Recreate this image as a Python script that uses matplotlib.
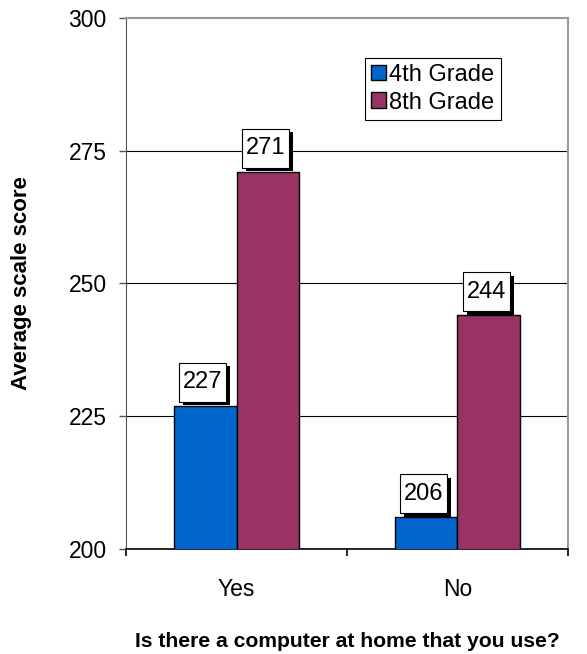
import matplotlib as mpl
mpl.use('Agg')
import matplotlib.pyplot as plt
import matplotlib.patheffects as pe
from matplotlib.path import Path
import numpy as np

categories = ['Yes', 'No']
grade4 = [227, 206]
grade8 = [271, 244]
series_names = ['4th Grade', '8th Grade']
yticks = [200, 225, 250, 275, 300]

plt.rcParams['font.family'] = ['Liberation Sans', 'DejaVu Sans']


def label_box(x0, y0, width, height, mutation_size):
    # rectangle with more padding above/below than at the sides
    px = 0.16 * mutation_size
    py = 0.36 * mutation_size
    x0, y0 = x0 - px, y0 - py
    x1, y1 = x0 + width + 2 * px, y0 + height + 2 * py
    return Path([(x0, y0), (x1, y0), (x1, y1), (x0, y1), (x0, y0)], closed=True)


fig = plt.figure(figsize=(5.87, 6.54), dpi=100)
ax = fig.add_axes([0.2147, 0.1606, 0.7529, 0.8119])

x = np.arange(len(categories))
w = 0.285
b1 = ax.bar(x - w / 2, grade4, w, color='#0066CC', edgecolor='black', linewidth=1.0,
            label=series_names[0], zorder=3)
b2 = ax.bar(x + w / 2, grade8, w, color='#993366', edgecolor='black', linewidth=1.0,
            label=series_names[1], zorder=3)

ax.set_xlim(-0.5, 1.5)
ax.set_ylim(200, 300)
ax.set_yticks(yticks)
ax.set_yticklabels([str(t) for t in yticks], fontsize=16.5)
ax.set_xticks(x)
ax.set_xticklabels(categories, fontsize=16.5)
ax.tick_params(axis='x', which='major', length=0, pad=21)
ax.set_xticks([-0.5, 0.5, 1.5], minor=True)
ax.tick_params(axis='x', which='minor', length=5, width=1.2, color='black', direction='out')
ax.tick_params(axis='y', length=5, width=1.0, color='#555555', direction='out', pad=9)

for t in yticks[1:-1]:
    ax.axhline(t, color='black', linewidth=0.8, zorder=1)

for side in ['top', 'right']:
    ax.spines[side].set_color('#999999')
    ax.spines[side].set_linewidth(1.5)
ax.spines['left'].set_color('#555555')
ax.spines['bottom'].set_color('black')
ax.spines['bottom'].set_linewidth(1.2)

# value labels in white boxes with a black drop shadow
for bars, vals in [(b1, grade4), (b2, grade8)]:
    for rect, v in zip(bars, vals):
        txt = ax.annotate(str(v), (rect.get_x() + rect.get_width() / 2 - 0.01, v),
                          xytext=(0, 9), textcoords='offset points',
                          ha='center', va='bottom', fontsize=17, zorder=5,
                          bbox=dict(boxstyle=label_box, fc='white', ec='black', lw=0.8))
        txt.get_bbox_patch().set_path_effects(
            [pe.SimplePatchShadow(offset=(2.5, -2.5), shadow_rgbFace='black', alpha=1.0),
             pe.Normal()])

leg = ax.legend(loc='upper left', bbox_to_anchor=(0.54, 0.925), fontsize=17,
                fancybox=False, edgecolor='black', framealpha=1,
                handlelength=0.65, handleheight=0.65, handletextpad=0.15,
                borderpad=0.25, labelspacing=0.25, borderaxespad=0)
leg.get_frame().set_linewidth(0.8)

ax.set_ylabel('Average scale score', fontsize=16, fontweight='bold', labelpad=26)
ax.set_xlabel('Is there a computer at home that you use?', fontsize=15.2,
              fontweight='bold', labelpad=22)

plt.savefig('out.png', dpi=100)
